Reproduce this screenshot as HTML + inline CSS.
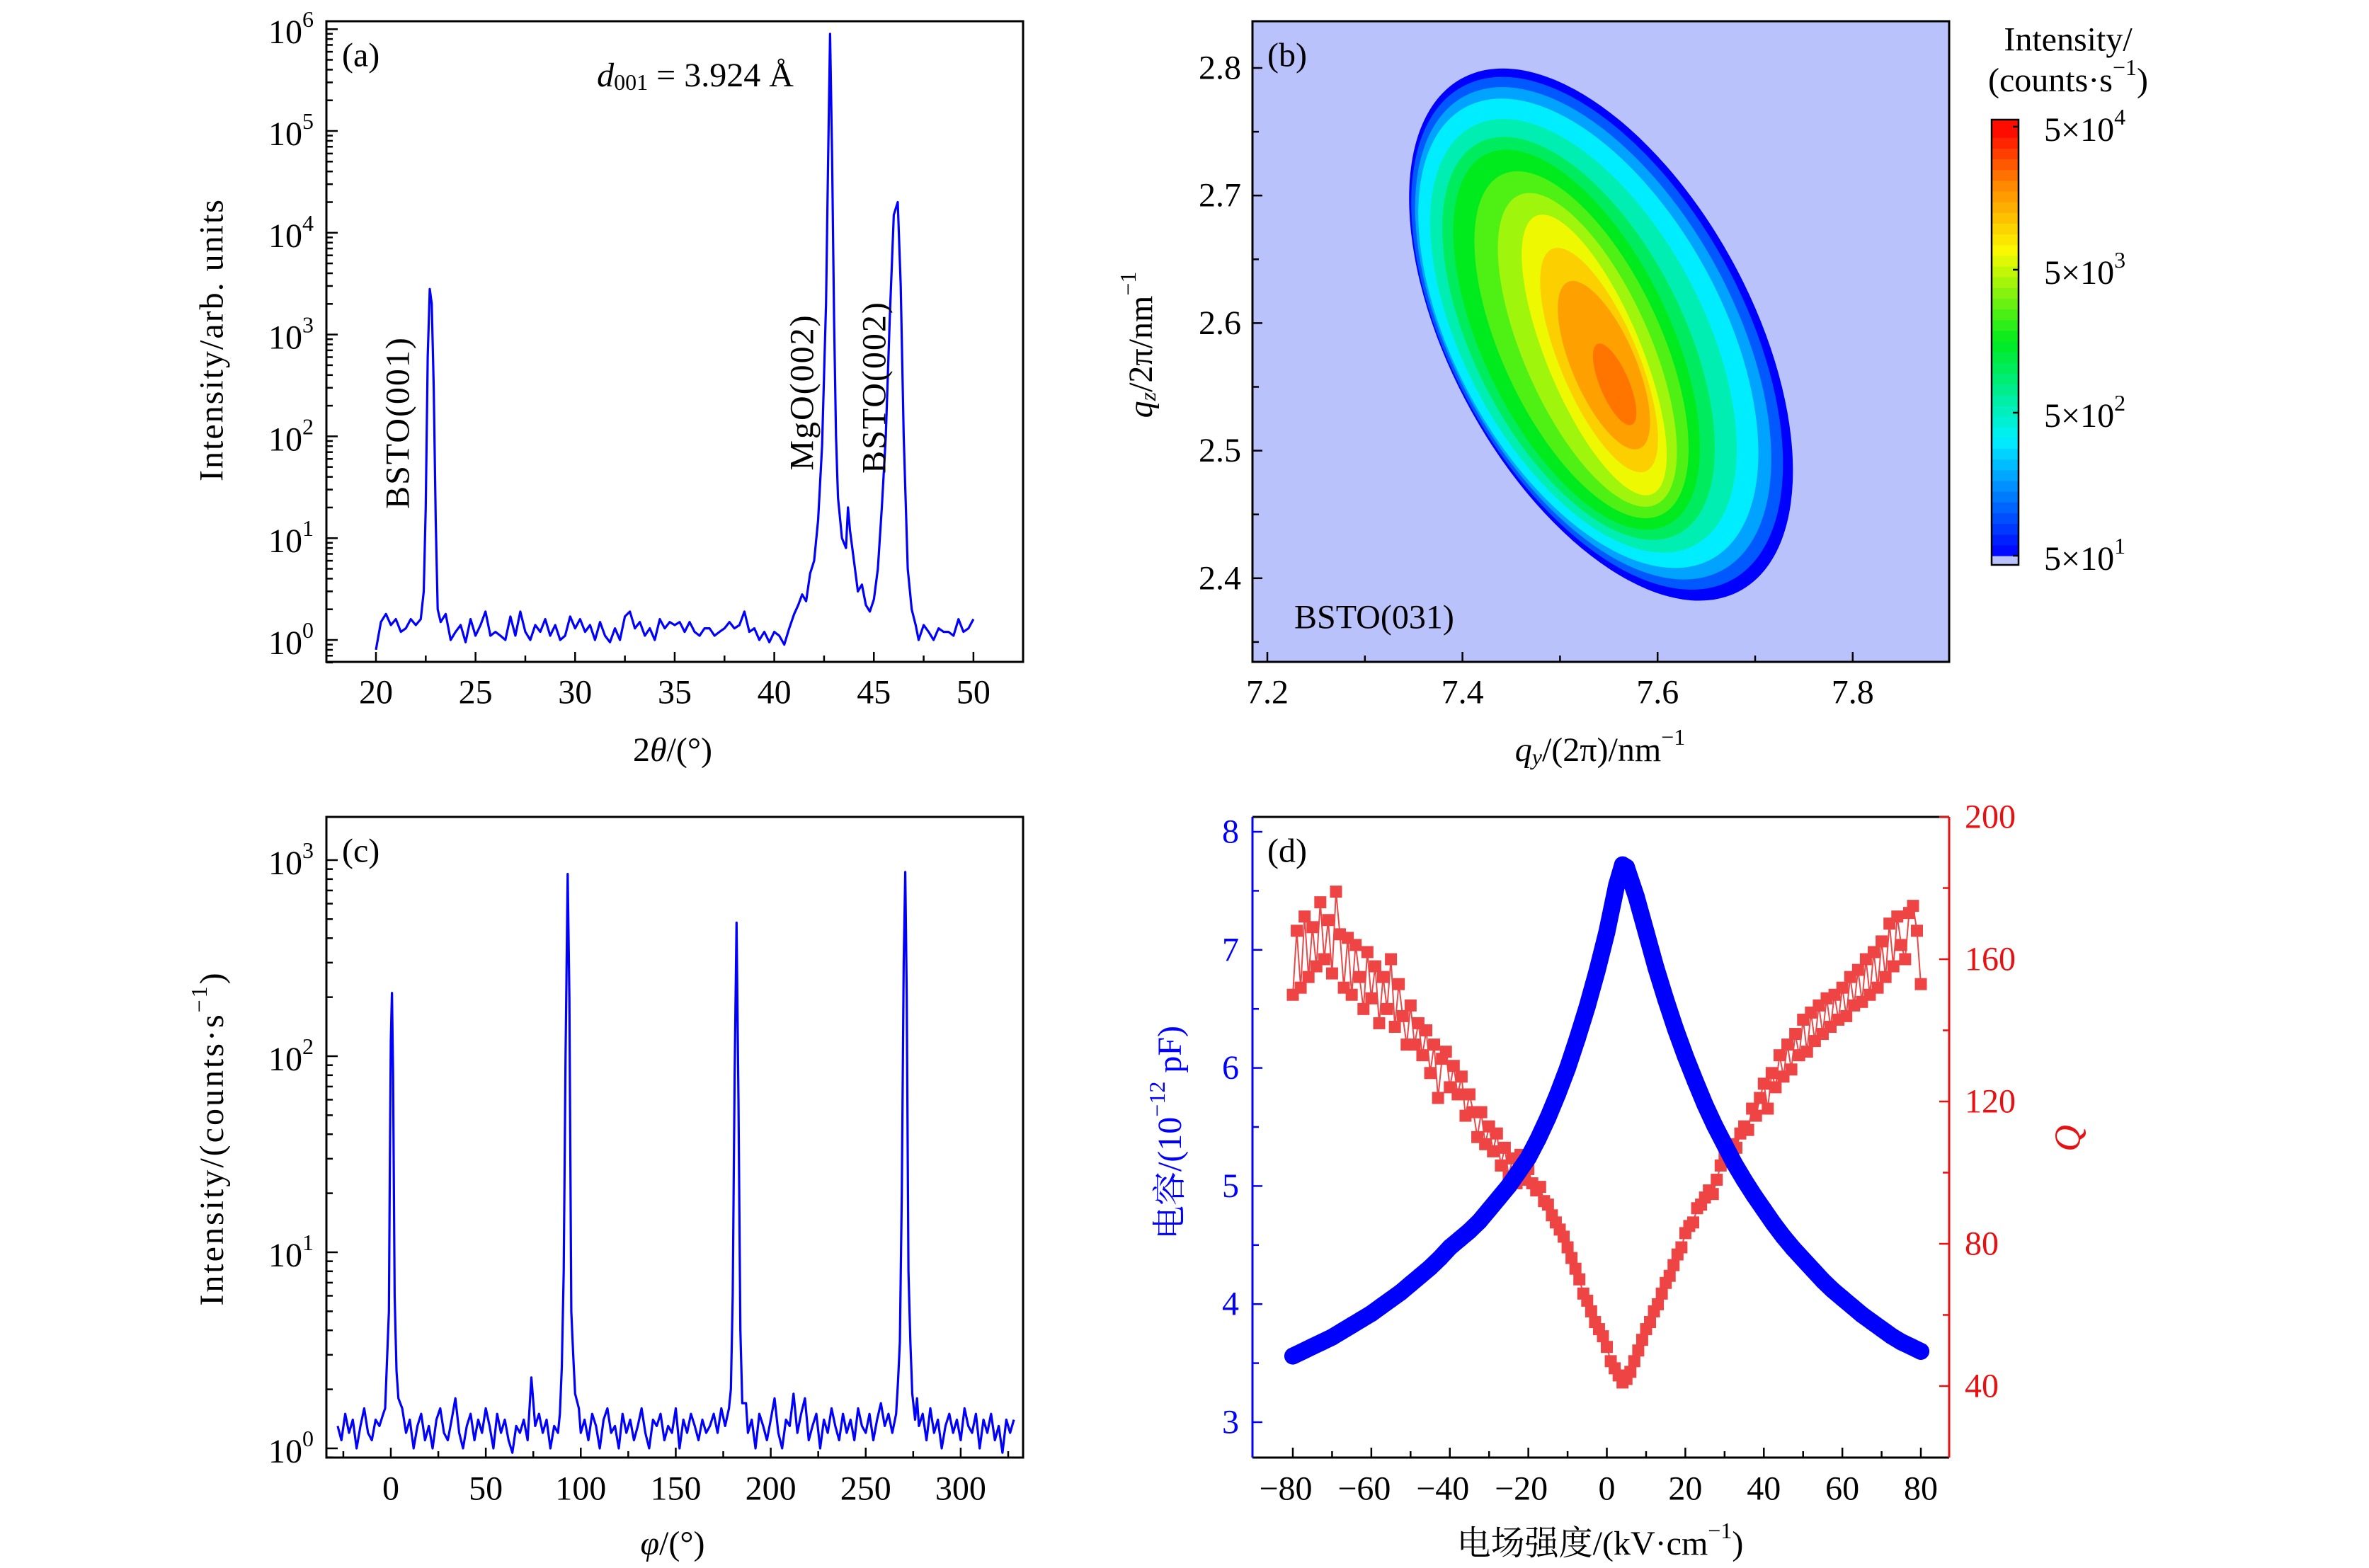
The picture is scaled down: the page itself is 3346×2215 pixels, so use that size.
<!DOCTYPE html>
<html><head><meta charset="utf-8"><style>
html,body{margin:0;padding:0;background:#fff;}
svg{display:block;font-family:"Liberation Serif","Noto Serif CJK SC",serif;}
</style></head><body>
<svg id="fig" xmlns="http://www.w3.org/2000/svg" width="3346" height="2215" viewBox="0 0 3346 2215">
<rect width="3346" height="2215" fill="#fff"/>
</svg>
<script>
// ---------- DATA ----------
// (a) 2theta scan: [2theta, intensity]
const scanA = [[20,0.8],[20.25,1.5],[20.5,1.8],[20.75,1.4],[21,1.6],[21.25,1.2],[21.5,1.3],[21.75,1.6],[22,1.4],[22.25,1.6],[22.4,3],[22.5,20],[22.6,600],[22.7,2800],[22.8,2000],[22.9,300],[23,15],[23.1,2],[23.25,1.5],[23.5,1.8],[23.75,1.0],[24,1.2],[24.25,1.4],[24.5,0.95],[24.75,1.6],[25,1.1],[25.25,1.4],[25.5,1.9],[25.75,1.1],[26,1.2],[26.25,1.1],[26.5,1.0],[26.75,1.7],[27,1.1],[27.25,1.9],[27.5,1.2],[27.75,1.0],[28,1.4],[28.25,1.2],[28.5,1.6],[28.75,1.1],[29,1.4],[29.25,1.0],[29.5,1.1],[29.75,1.7],[30,1.3],[30.25,1.6],[30.5,1.2],[30.75,1.4],[31,1.0],[31.25,1.5],[31.5,1.1],[31.75,0.95],[32,1.3],[32.25,1.0],[32.5,1.7],[32.75,1.9],[33,1.3],[33.25,1.5],[33.5,1.1],[33.75,1.3],[34,1.0],[34.25,1.6],[34.5,1.3],[34.75,1.5],[35,1.4],[35.25,1.5],[35.5,1.2],[35.75,1.5],[36,1.2],[36.25,1.1],[36.5,1.3],[36.75,1.3],[37,1.1],[37.25,1.2],[37.5,1.3],[37.75,1.5],[38,1.3],[38.25,1.4],[38.5,1.9],[38.75,1.2],[39,1.3],[39.25,1.0],[39.5,1.2],[39.75,0.95],[40,1.2],[40.25,1.1],[40.5,0.9],[40.75,1.3],[41,1.8],[41.2,2.2],[41.4,2.8],[41.6,2.4],[41.8,4.5],[42,6],[42.2,15],[42.4,80],[42.6,2000],[42.7,50000],[42.8,900000],[42.9,60000],[43,1500],[43.1,100],[43.2,25],[43.4,10],[43.6,8],[43.7,20],[43.8,12],[44,6],[44.2,3],[44.4,3.5],[44.6,2.2],[44.8,1.9],[45,2.5],[45.2,5],[45.4,20],[45.6,100],[45.8,1500],[46,15000],[46.2,20000],[46.35,3000],[46.5,100],[46.7,5],[46.9,2],[47.1,1.4],[47.25,1.0],[47.5,1.4],[47.75,1.2],[48,1.0],[48.25,1.3],[48.5,1.2],[48.75,1.2],[49,1.1],[49.25,1.6],[49.5,1.2],[49.75,1.3],[50,1.6]];
const xTicksA = [20,25,30,35,40,45,50];
const yDecadesA = [0,1,2,3,4,5,6];

// (b) RSM contour levels (log10 counts) and ellipse geometry in q units
const cLevels  = [1.7,2.0,2.25,2.5,2.75,3.0,3.2,3.4,3.6,3.8,4.0,4.2,4.35];
const cCenterQy= [7.542,7.538,7.534,7.529,7.524,7.519,7.517,7.522,7.528,7.535,7.540,7.545,7.556];
const cCenterQz= [2.591,2.592,2.592,2.592,2.590,2.588,2.587,2.583,2.579,2.575,2.571,2.567,2.552];
const cHalfQy  = [0.169,0.164,0.157,0.150,0.134,0.117,0.104,0.088,0.070,0.052,0.043,0.035,0.016];
const cHalfQz  = [0.2086,0.201,0.193,0.184,0.170,0.158,0.149,0.136,0.123,0.110,0.088,0.066,0.032];
const xTicksB = [7.2,7.4,7.6,7.8];
const yTicksB = [2.4,2.5,2.6,2.7,2.8];
const cbarTicks = [1.699,2.699,3.699,4.699];
const cbarExp = [1,2,3,4];

// (c) phi scan: [phi, intensity]
const scanC = [[-28,1.3],[-26,1.1],[-24,1.5],[-22,1.2],[-20,1.4],[-18,1.0],[-16,1.3],[-14,1.6],[-12,1.2],[-10,1.1],[-8,1.4],[-6,1.3],[-4,1.5],[-3,1.6],[-2,2.8],[-1,5],[-0.5,30],[0,120],[0.6,210],[1.2,80],[2,6],[3,2.5],[4,1.8],[6,1.6],[8,1.2],[10,1.4],[12,1.0],[14,1.3],[16,1.5],[18,1.1],[20,1.3],[22,1.0],[24,1.4],[26,1.6],[28,1.2],[30,1.1],[32,1.4],[34,1.8],[36,1.2],[38,1.0],[40,1.3],[42,1.5],[44,1.1],[46,1.4],[48,1.2],[50,1.6],[52,1.3],[54,1.0],[56,1.5],[58,1.2],[60,1.4],[62,1.1],[64,0.95],[66,1.3],[68,1.2],[70,1.4],[72,1.1],[74,2.3],[76,1.3],[78,1.5],[80,1.2],[82,1.4],[84,1.0],[86,1.3],[88,1.2],[89,1.5],[90,2.6],[91,8],[92,100],[93.1,850],[94,200],[95,5],[96,3],[97,1.9],[99,1.6],[100,1.2],[102,1.4],[104,1.1],[106,1.5],[108,1.3],[110,1.0],[112,1.4],[114,1.6],[116,1.2],[118,1.3],[120,1.0],[122,1.5],[124,1.2],[126,1.4],[128,1.1],[130,1.3],[132,1.6],[134,1.2],[136,1.0],[138,1.4],[140,1.3],[142,1.5],[144,1.1],[146,1.3],[148,1.2],[150,1.6],[152,1.0],[154,1.4],[156,1.2],[158,1.5],[160,1.3],[162,1.1],[164,1.4],[166,1.2],[168,1.3],[170,1.5],[172,1.2],[174,1.6],[176,1.3],[178,1.6],[179,2.0],[180,6],[181,80],[182,480],[183,60],[184,4],[185,1.7],[187,1.7],[188,1.2],[190,1.4],[192,1.0],[194,1.5],[196,1.3],[198,1.1],[200,1.4],[202,1.8],[204,1.2],[206,1.0],[208,1.4],[210,1.3],[212,1.9],[214,1.2],[216,1.5],[218,1.8],[220,1.1],[222,1.3],[224,1.5],[226,1.0],[228,1.4],[230,1.2],[232,1.6],[234,1.3],[236,1.1],[238,1.5],[240,1.2],[242,1.4],[244,1.1],[246,1.6],[248,1.3],[250,1.2],[252,1.5],[254,1.1],[256,1.4],[258,1.7],[260,1.3],[262,1.5],[264,1.2],[266,1.5],[267,2.2],[268,3.5],[269,20],[270,300],[270.8,870],[271.6,200],[272.5,8],[273.5,3.5],[274.5,1.9],[276,1.4],[277,1.8],[278,1.3],[280,1.5],[282,1.1],[284,1.6],[286,1.2],[288,1.4],[290,1.0],[292,1.3],[294,1.5],[296,1.2],[298,1.4],[300,1.1],[302,1.6],[304,1.3],[306,1.2],[308,1.5],[310,1.0],[312,1.4],[314,1.2],[316,1.5],[318,1.1],[320,1.3],[322,0.95],[324,1.4],[326,1.2],[328,1.4]];
const xTicksC = [0,50,100,150,200,250,300];
const yDecadesC = [0,1,2,3];

// (d) capacitance vs field
const fieldC = [-80,-77.5,-75,-72.5,-70,-67.5,-65,-62.5,-60,-57.5,-55,-52.5,-50,-47.5,-45,-42.5,-40,-37.5,-35,-32.5,-30,-27.5,-25,-22.5,-20,-17.5,-15,-12.5,-10,-7.5,-5,-2.5,0,2.5,4,5,7.5,10,12.5,15,17.5,20,22.5,25,27.5,30,32.5,35,37.5,40,42.5,45,47.5,50,52.5,55,57.5,60,62.5,65,67.5,70,72.5,75,77.5,80];
const capC = [3.56,3.6,3.64,3.68,3.72,3.77,3.82,3.87,3.92,3.98,4.04,4.1,4.17,4.24,4.31,4.39,4.48,4.55,4.62,4.7,4.8,4.9,5.0,5.12,5.24,5.4,5.58,5.78,6.0,6.25,6.52,6.82,7.15,7.55,7.72,7.7,7.45,7.15,6.85,6.58,6.33,6.1,5.89,5.69,5.51,5.35,5.19,5.05,4.92,4.8,4.68,4.57,4.47,4.38,4.29,4.2,4.12,4.05,3.98,3.91,3.85,3.79,3.73,3.68,3.64,3.6];
// (d) quality factor vs field
const fieldQ = [];
const qVals = [150,168,152,172,155,169,158,176,160,171,156,179,167,152,166,150,164,155,146,162,149,158,142,155,146,160,141,153,144,136,147,136,142,133,140,128,136,121,132,134,124,130,122,127,116,122,117,110,117,108,113,106,111,102,107,99,104,97,105,98,101,97,95,96,92,91,88,86,84,82,79,76,73,70,66,64,61,58,56,54,51,47,45,43,41,42,44,47,50,53,56,58,61,63,66,69,71,74,77,79,83,85,86,90,91,93,95,94,98,102,105,103,108,107,111,113,112,118,116,121,125,118,128,124,133,127,136,129,139,133,143,134,145,137,147,139,149,141,150,143,152,144,155,147,157,148,160,150,162,152,165,155,170,158,172,164,160,173,175,168,153];
for (let e = -80; e <= 80; e++) fieldQ.push(e);
const xTicksD = [-80,-60,-40,-20,0,20,40,60,80];
const yTicksDL = [3,4,5,6,7,8];
const yTicksDR = [40,80,120,160,200];

// ---------- HELPERS ----------
const NS = "http://www.w3.org/2000/svg";
const svg = document.getElementById('fig');
function el(tag, attrs, parent) {
  const e = document.createElementNS(NS, tag);
  for (const k in attrs) e.setAttribute(k, attrs[k]);
  (parent || svg).appendChild(e);
  return e;
}
function grp(name) {
  const g = el('g', {});
  
  
  return g;
}
function txt(parent, x, y, s, size, anchor, fill, extra) {
  const t = el('text', Object.assign({x: x, y: y, 'font-size': size, 'text-anchor': anchor || 'middle', fill: fill || '#000', 'dominant-baseline': 'central'}, extra || {}), parent);
  t.textContent = s;
  return t;
}
function pow10(parent, x, y, base, exp, fill, anchor) {
  const t = el('text', {x: x, y: y, 'font-size': 48, 'text-anchor': anchor || 'end', fill: fill || '#000', 'dominant-baseline': 'central'}, parent);
  const a = el('tspan', {}, t); a.textContent = base;
  const b = el('tspan', {'font-size': 32, dy: -18}, t); b.textContent = exp;
  return t;
}
function line(parent, x1, y1, x2, y2, stroke, w) {
  return el('line', {x1: x1, y1: y1, x2: x2, y2: y2, stroke: stroke || '#000', 'stroke-width': w || 2.5}, parent);
}
function frame(parent, L, T, R, B) {
  el('rect', {x: L, y: T, width: R - L, height: B - T, fill: 'none', stroke: '#000', 'stroke-width': 3}, parent);
}
function jet(t) {
  t = Math.max(0, Math.min(1, t));
  const stops = [[0, [0, 0, 255]], [0.27, [0, 240, 255]], [0.5, [0, 235, 30]], [0.71, [250, 250, 0]], [0.86, [255, 140, 0]], [1, [255, 0, 0]]];
  for (let i = 1; i < stops.length; i++) {
    if (t <= stops[i][0]) {
      const [t0, c0] = stops[i - 1], [t1, c1] = stops[i];
      const f = (t - t0) / (t1 - t0);
      return 'rgb(' + c0.map((c, k) => Math.round(c + (c1[k] - c) * f)).join(',') + ')';
    }
  }
  return 'rgb(255,0,0)';
}

// ---------- PANEL A ----------
(function () {
  const L = 461, R = 1445, T = 30, B = 935;
  const X = v => 531 + (v - 20) * 28.13;
  const Y = v => 904 - Math.log10(v) * 143.8;
  const g = grp('panel-a');
  const ticks = grp('panel-a-ticks'); g.appendChild(ticks);
  for (let v = 17.5; v <= 52.5; v += 2.5) {
    if (X(v) <= L + 1 || X(v) >= R - 1) continue;
    line(ticks, X(v), B, X(v), B - (v % 5 === 0 ? 14 : 9));
  }
  xTicksA.forEach(v => {
    const t = txt(g, X(v), 978, String(v), 48);
    
    
  });
  yDecadesA.forEach(d => {
    line(ticks, L, Y(Math.pow(10, d)), L + 16, Y(Math.pow(10, d)));
    for (let m = 2; m <= 9; m++) {
      const yy = Y(m * Math.pow(10, d));
      if (yy > T) line(ticks, L, yy, L + 9, yy);
    }
    const t = pow10(g, 443, Y(Math.pow(10, d)) + 4, '10', String(d));
    
    
  });
  for (let m = 6; m <= 9; m++) line(ticks, L, Y(m / 10), L + 9, Y(m / 10));
  const pts = scanA.map(p => X(p[0]).toFixed(1) + ',' + Y(p[1]).toFixed(1)).join(' ');
  const pl = el('polyline', {points: pts, fill: 'none', stroke: '#0000ff', 'stroke-width': 3.2, 'stroke-linejoin': 'round'}, g);
  
  
  frame(g, L, T, R, B);
  const pa = txt(g, 483, 78, '(a)', 48, 'start');
   
  const d = el('text', {x: 982, y: 106, 'font-size': 48, 'text-anchor': 'middle', 'dominant-baseline': 'central'}, g);
   
  const d1 = el('tspan', {'font-style': 'italic'}, d); d1.textContent = 'd';
  const d2 = el('tspan', {'font-size': 32, dy: 10}, d); d2.textContent = '001';
  const d3 = el('tspan', {dy: -10}, d); d3.textContent = ' = 3.924 Å';
  [['BSTO(001)', 562, 597, 'peak-label-bsto001'], ['MgO(002)', 1133, 554, 'peak-label-mgo002'], ['BSTO(002)', 1235, 547, 'peak-label-bsto002']].forEach(a => {
    const t = txt(g, a[1], a[2], a[0], 48, 'middle', '#000', {transform: 'rotate(-90 ' + a[1] + ' ' + a[2] + ')', 'letter-spacing': '2'});
     
  });
  const xl = el('text', {x: 950, y: 1059, 'font-size': 48, 'text-anchor': 'middle', 'dominant-baseline': 'central'}, g);
   
  const x1 = el('tspan', {}, xl); x1.textContent = '2';
  const x2 = el('tspan', {'font-style': 'italic'}, xl); x2.textContent = 'θ';
  const x3 = el('tspan', {}, xl); x3.textContent = '/(°)';
  const yl = txt(g, 299, 480, 'Intensity/arb. units', 48, 'middle', '#000', {transform: 'rotate(-90 299 480)', 'letter-spacing': '2'});
   
})();

// ---------- PANEL B ----------
(function () {
  const L = 1769, R = 2753, T = 30, B = 935;
  const X = v => 1790 + (v - 7.2) * 1378;
  const Y = v => 96 + (2.8 - v) * 1802;
  const g = grp('panel-b');
  const bg = el('rect', {x: L, y: T, width: R - L, height: B - T, fill: '#b9c2fb'}, g);
   
  const skew = Math.atan(0.369) * 180 / Math.PI;
  cLevels.forEach((lv, i) => {
    const cx = X(cCenterQy[i]), cy = Y(cCenterQz[i]);
    const rx = cHalfQy[i] * 1378, ry = cHalfQz[i] * 1802;
    const e = el('ellipse', {cx: 0, cy: 0, rx: rx, ry: ry, fill: jet((lv - 1.7) / 3.0),
      transform: 'translate(' + cx + ' ' + cy + ') skewX(' + skew + ')'}, g);
    
    
  });
  const ticks = grp('panel-b-ticks'); g.appendChild(ticks);
  for (let v = 7.2; v <= 7.85; v += 0.1) line(ticks, X(v), B, X(v), B - (Math.round(v * 10) % 2 === 0 ? 14 : 9));
  for (let v = 2.35; v <= 2.83; v += 0.05) {
    const major = Math.abs(v * 10 - Math.round(v * 10)) < 0.01;
    line(ticks, L, Y(v), L + (major ? 14 : 9), Y(v));
  }
  xTicksB.forEach(v => {
    const t = txt(g, X(v), 978, v.toFixed(1), 48);
     
  });
  yTicksB.forEach(v => {
    const t = txt(g, 1753, Y(v), v.toFixed(1), 48, 'end');
     
  });
  frame(g, L, T, R, B);
  const pb = txt(g, 1790, 78, '(b)', 48, 'start');
   
  const rl = txt(g, 1828, 872, 'BSTO(031)', 48, 'start');
   
  const xl = el('text', {x: 2260, y: 1059, 'font-size': 48, 'text-anchor': 'middle', 'dominant-baseline': 'central'}, g);
   
  let s = el('tspan', {'font-style': 'italic'}, xl); s.textContent = 'q';
  s = el('tspan', {'font-style': 'italic', 'font-size': 32, dy: 10}, xl); s.textContent = 'y';
  s = el('tspan', {dy: -10}, xl); s.textContent = '/(2π)/nm';
  s = el('tspan', {'font-size': 32, dy: -18}, xl); s.textContent = '−1';
  const yl = el('text', {x: 1611, y: 487, 'font-size': 48, 'text-anchor': 'middle', 'dominant-baseline': 'central', transform: 'rotate(-90 1611 487)'}, g);
   
  s = el('tspan', {'font-style': 'italic'}, yl); s.textContent = 'q';
  s = el('tspan', {'font-style': 'italic', 'font-size': 32, dy: 10}, yl); s.textContent = 'z';
  s = el('tspan', {dy: -10}, yl); s.textContent = '/2π/nm';
  s = el('tspan', {'font-size': 32, dy: -18}, yl); s.textContent = '−1';
  const cb = grp('colorbar'); g.appendChild(cb);
  const cbL = 2813, cbR = 2851, cbTop = 169, cbBot = 798;
  const CY = lv => 785 - (lv - 1.699) / 3.0 * (785 - 179);
  el('rect', {x: cbL, y: CY(1.699), width: cbR - cbL, height: cbBot - CY(1.699), fill: '#b9c2fb'}, cb);
  const nb = 40;
  for (let i = 0; i < nb; i++) {
    const y0 = CY(1.699 + i * 3.0 / nb), y1 = i === nb - 1 ? cbTop : CY(1.699 + (i + 1) * 3.0 / nb);
    const r = el('rect', {x: cbL, y: y1, width: cbR - cbL, height: y0 - y1 + 0.6, fill: jet((i + 0.5) / nb)}, cb);
     
  }
  el('rect', {x: cbL, y: cbTop, width: cbR - cbL, height: cbBot - cbTop, fill: 'none', stroke: '#000', 'stroke-width': 2.5}, cb);
  cbarTicks.forEach((lv, i) => {
    line(cb, cbR, CY(lv), cbR - 8, CY(lv));
    const t = el('text', {x: 2887, y: CY(lv) + 4, 'font-size': 48, 'text-anchor': 'start', 'dominant-baseline': 'central'}, cb);
     
    let a = el('tspan', {}, t); a.textContent = '5×10';
    a = el('tspan', {'font-size': 32, dy: -18}, t); a.textContent = String(cbarExp[i]);
  });
  const c1 = txt(cb, 2921, 56, 'Intensity/', 48);
   
  const c2 = el('text', {x: 2921, y: 113, 'font-size': 48, 'text-anchor': 'middle', 'dominant-baseline': 'central'}, cb);
   
  let a = el('tspan', {}, c2); a.textContent = '(counts·s';
  a = el('tspan', {'font-size': 32, dy: -18}, c2); a.textContent = '−1';
  a = el('tspan', {dy: 18}, c2); a.textContent = ')';
})();

// ---------- PANEL C ----------
(function () {
  const L = 461, R = 1445, T = 1154, B = 2059;
  const X = v => 552 + v * 2.683;
  const Y = v => 2046 - Math.log10(v) * 277;
  const g = grp('panel-c');
  const ticks = grp('panel-c-ticks'); g.appendChild(ticks);
  for (let v = -25; v <= 325; v += 25) line(ticks, X(v), B, X(v), B - (v % 50 === 0 ? 14 : 9));
  xTicksC.forEach(v => {
    const t = txt(g, X(v), 2103, String(v), 48);
     
  });
  yDecadesC.forEach(d => {
    line(ticks, L, Y(Math.pow(10, d)), L + 16, Y(Math.pow(10, d)));
    for (let m = 2; m <= 9; m++) {
      const yy = Y(m * Math.pow(10, d));
      if (yy > T) line(ticks, L, yy, L + 9, yy);
    }
    const t = pow10(g, 443, Y(Math.pow(10, d)) + 4, '10', String(d));
     
  });
  line(ticks, L, Y(0.9), L + 9, Y(0.9));
  const pts = scanC.map(p => X(p[0]).toFixed(1) + ',' + Y(p[1]).toFixed(1)).join(' ');
  const pl = el('polyline', {points: pts, fill: 'none', stroke: '#0000ff', 'stroke-width': 3.2, 'stroke-linejoin': 'round'}, g);
   
  frame(g, L, T, R, B);
  const pc = txt(g, 483, 1202, '(c)', 48, 'start');
   
  const xl = el('text', {x: 950, y: 2180, 'font-size': 48, 'text-anchor': 'middle', 'dominant-baseline': 'central'}, g);
   
  let s = el('tspan', {'font-style': 'italic'}, xl); s.textContent = 'φ';
  s = el('tspan', {}, xl); s.textContent = '/(°)';
  const yl = el('text', {x: 299, y: 1608, 'font-size': 48, 'text-anchor': 'middle', 'dominant-baseline': 'central', transform: 'rotate(-90 299 1608)', 'letter-spacing': '3'}, g);
   
  s = el('tspan', {}, yl); s.textContent = 'Intensity/(counts·s';
  s = el('tspan', {'font-size': 32, dy: -18}, yl); s.textContent = '−1';
  s = el('tspan', {dy: 18}, yl); s.textContent = ')';
})();

// ---------- PANEL D ----------
(function () {
  const L = 1769, R = 2753, T = 1154, B = 2059;
  const X = v => 1826 + (v + 80) * 5.544;
  const YL = v => 1175 + (8 - v) * 166.8;
  const YR = v => 1154 + (200 - v) * 5.025;
  const g = grp('panel-d');
  line(g, L, T, R, T, '#000', 3);
  line(g, L, B, R, B, '#000', 3);
  const ls = line(g, L, T, L, B, '#0000ff', 3);
   
  const rs = line(g, R, T, R, B, '#e81010', 3);
   
  for (let v = -80; v <= 80; v += 10) line(g, X(v), B, X(v), B - (v % 20 === 0 ? 14 : 9));
  xTicksD.forEach(v => {
    const t = txt(g, X(v) + (v < 0 ? -10 : 0), 2103, v < 0 ? '−' + Math.abs(v) : String(v), 48);
     
  });
  for (let v = 3; v <= 8; v += 0.5) line(g, L, YL(v), L + (v % 1 === 0 ? 14 : 9), YL(v), '#0000ff');
  yTicksDL.forEach(v => {
    const t = txt(g, 1750, YL(v), String(v), 48, 'end', '#0000ff');
     
  });
  for (let v = 40; v <= 200; v += 20) line(g, R, YR(v), R - (v % 40 === 0 ? 14 : 9), YR(v), '#e81010');
  yTicksDR.forEach(v => {
    const t = txt(g, 2775, YR(v), String(v), 48, 'start', '#e81010');
     
  });
  const qg = grp('q-series'); g.appendChild(qg);
  const qp = fieldQ.map((e, i) => X(e).toFixed(1) + ',' + YR(qVals[i]).toFixed(1)).join(' ');
  el('polyline', {points: qp, fill: 'none', stroke: '#e84848', 'stroke-width': 2}, qg);
  fieldQ.forEach((e, i) => {
    const r = el('rect', {x: X(e) - 8.5, y: YR(qVals[i]) - 8.5, width: 17, height: 17, fill: '#ee4444'}, qg);
     
  });
  const cg = grp('capacitance-series'); g.appendChild(cg);
  const cp = fieldC.map((e, i) => X(e).toFixed(1) + ',' + YL(capC[i]).toFixed(1)).join(' ');
  el('polyline', {points: cp, fill: 'none', stroke: '#0000ff', 'stroke-width': 24, 'stroke-linejoin': 'round', 'stroke-linecap': 'round'}, cg);
  fieldC.forEach((e, i) => {
    const c = el('circle', {cx: X(e), cy: YL(capC[i]), r: 12, fill: '#0000ff'}, cg);
     
  });
  const pd = txt(g, 1790, 1202, '(d)', 48, 'start');
   
  const xl = el('text', {x: 2260, y: 2180, 'font-size': 48, 'text-anchor': 'middle', 'dominant-baseline': 'central'}, g);
   
  let s = el('tspan', {}, xl); s.textContent = '电场强度/(kV·cm';
  s = el('tspan', {'font-size': 32, dy: -18}, xl); s.textContent = '−1';
  s = el('tspan', {dy: 18}, xl); s.textContent = ')';
  const yl = el('text', {x: 1652, y: 1600, 'font-size': 48, 'text-anchor': 'middle', 'dominant-baseline': 'central', fill: '#0000ff', transform: 'rotate(-90 1652 1600)'}, g);
   
  s = el('tspan', {}, yl); s.textContent = '电容/(10';
  s = el('tspan', {'font-size': 32, dy: -18}, yl); s.textContent = '−12';
  s = el('tspan', {dy: 18}, yl); s.textContent = ' pF)';
  const ql = txt(g, 2921, 1608, 'Q', 52, 'middle', '#e81010', {'font-style': 'italic', transform: 'rotate(-90 2921 1608)'});
   
})();
</script>
</body></html>
